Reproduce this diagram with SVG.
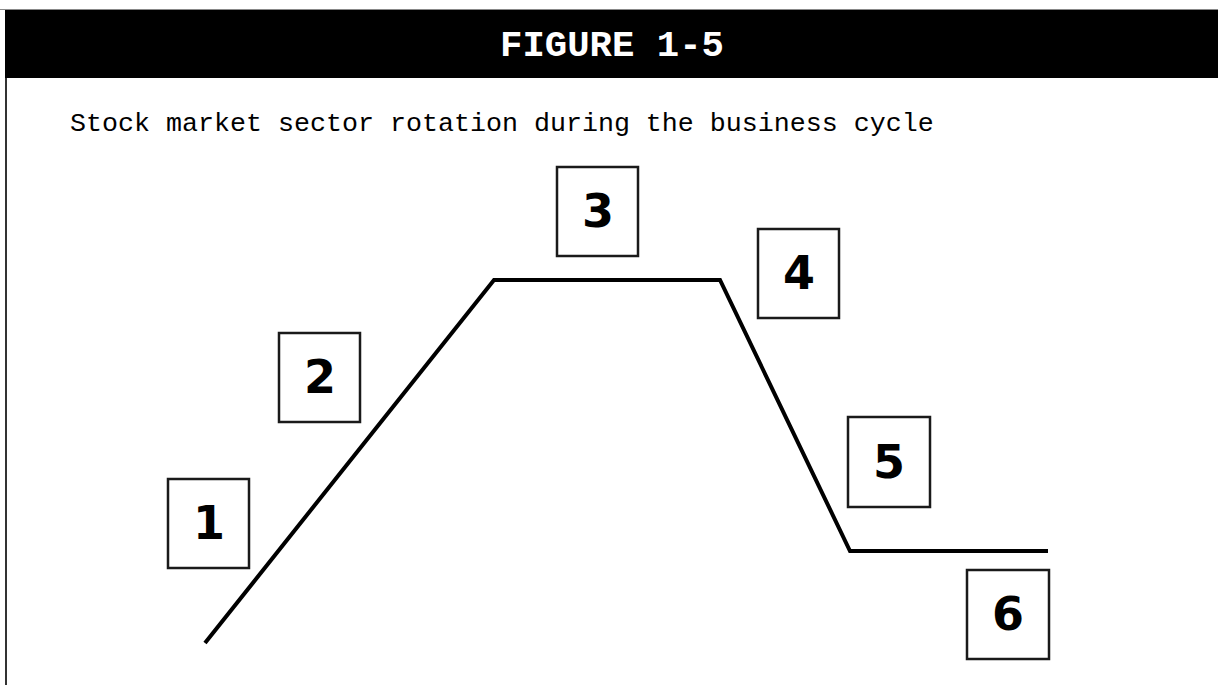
<svg xmlns="http://www.w3.org/2000/svg" width="1218" height="685" viewBox="0 0 1218 685">
<style>
.box rect{fill:#fff;stroke:#1a1a1a;stroke-width:2.5}
.box text{font-family:"DejaVu Sans","Liberation Sans",sans-serif;font-weight:bold;font-size:46px;fill:#000;text-anchor:middle}
.title{font-family:"Liberation Mono","Courier New",monospace;font-weight:bold;font-size:37.3px;fill:#fff;text-anchor:middle}
.sub{font-family:"Liberation Mono","Courier New",monospace;font-size:26.67px;fill:#000}
</style>
<rect x="0" y="0" width="1218" height="685" fill="#fff"/>
<g id="frame">
<line x1="0" y1="9.5" x2="1218" y2="9.5" stroke="#888" stroke-width="1"/>
<rect x="5" y="10" width="1213" height="68" fill="#000"/>
<line x1="6" y1="78" x2="6" y2="685" stroke="#333" stroke-width="2"/>
</g>
<text class="title" x="612" y="56">FIGURE 1-5</text>
<text class="sub" x="70" y="131">Stock market sector rotation during the business cycle</text>
<g id="connectors">
<polyline points="205,643 494,280 720,280 850,551 1048,551" fill="none" stroke="#000" stroke-width="4" stroke-linejoin="miter"/>
</g>
<g id="n1" class="box"><rect x="168" y="479" width="81" height="89"/><text x="209" y="539">1</text></g>
<g id="n2" class="box"><rect x="279" y="333" width="81" height="89"/><text x="320" y="393">2</text></g>
<g id="n3" class="box"><rect x="557" y="167" width="81" height="89"/><text x="598" y="227">3</text></g>
<g id="n4" class="box"><rect x="758" y="229" width="81" height="89"/><text x="799" y="289">4</text></g>
<g id="n5" class="box"><rect x="848" y="417" width="82" height="90"/><text x="889" y="478">5</text></g>
<g id="n6" class="box"><rect x="967" y="570" width="82" height="89"/><text x="1008" y="630">6</text></g>
</svg>
